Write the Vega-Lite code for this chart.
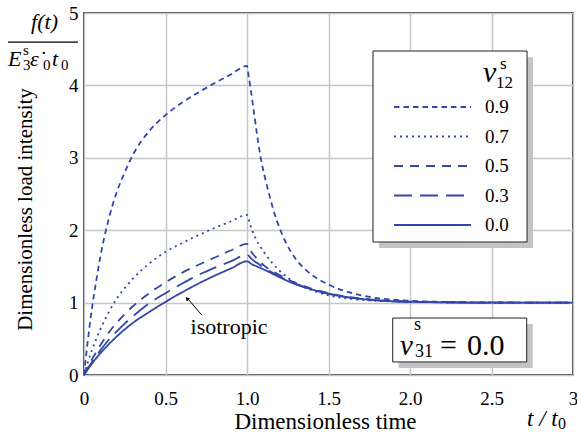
{
  "$schema": "https://vega.github.io/schema/vega-lite/v6.json",
  "width": 489,
  "height": 362,
  "autosize": "none",
  "padding": {"left": 84, "top": 13, "right": 4, "bottom": 57},
  "background": "white",
  "config": {
    "view": {"stroke": "#111111", "strokeWidth": 1.6},
    "font": "Liberation Serif",
    "axis": {
      "grid": true, "gridColor": "#c6c6c6", "gridWidth": 1.5,
      "domain": false, "ticks": false, "tickSize": 0,
      "labelFont": "Liberation Serif", "labelFontSize": 19, "labelColor": "#000000",
      "titleFont": "Liberation Serif", "titleFontWeight": "normal", "titleColor": "#000000"
    },
    "legend": {"labelFont": "Liberation Serif"},
    "text": {"font": "Liberation Serif", "color": "#000000"}
  },
  "layer": [
    {
      "data": {"values": [{}]},
      "mark": {"type": "rect", "color": "#c4c4c4"},
      "encoding": {
        "x": {"datum": 1.81, "type": "quantitative"}, "x2": {"datum": 2.755},
        "y": {"datum": 1.754, "type": "quantitative"}, "y2": {"datum": 4.39}
      }
    },
    {
      "data": {"values": [{}]},
      "mark": {"type": "rect", "fill": "white", "stroke": "#222222", "strokeWidth": 1},
      "encoding": {
        "x": {"datum": 1.773, "type": "quantitative"}, "x2": {"datum": 2.718},
        "y": {"datum": 1.837, "type": "quantitative"}, "y2": {"datum": 4.475}
      }
    },
    {
      "data": {"values": [{}]},
      "mark": {"type": "rect", "color": "#c4c4c4"},
      "encoding": {
        "x": {"datum": 1.931, "type": "quantitative"}, "x2": {"datum": 2.753},
        "y": {"datum": 0.097, "type": "quantitative"}, "y2": {"datum": 0.704}
      }
    },
    {
      "data": {"values": [{}]},
      "mark": {"type": "rect", "fill": "white", "stroke": "#222222", "strokeWidth": 1},
      "encoding": {
        "x": {"datum": 1.894, "type": "quantitative"}, "x2": {"datum": 2.716},
        "y": {"datum": 0.18, "type": "quantitative"}, "y2": {"datum": 0.787}
      }
    },
    {
      "data": {
        "values": [
          {"nu": "0.9", "t": 0, "f": 0}, {"nu": "0.9", "t": 0.02, "f": 0.41}, {"nu": "0.9", "t": 0.05, "f": 0.94},
          {"nu": "0.9", "t": 0.075, "f": 1.3}, {"nu": "0.9", "t": 0.1, "f": 1.63}, {"nu": "0.9", "t": 0.15, "f": 2.14}, {"nu": "0.9", "t": 0.2, "f": 2.52},
          {"nu": "0.9", "t": 0.25, "f": 2.8}, {"nu": "0.9", "t": 0.3, "f": 3.04}, {"nu": "0.9", "t": 0.4, "f": 3.37}, {"nu": "0.9", "t": 0.5, "f": 3.59},
          {"nu": "0.9", "t": 0.6, "f": 3.76}, {"nu": "0.9", "t": 0.7, "f": 3.9}, {"nu": "0.9", "t": 0.8, "f": 4.03},
          {"nu": "0.9", "t": 0.9, "f": 4.15}, {"nu": "0.9", "t": 1.0, "f": 4.27}, {"nu": "0.9", "t": 1.01, "f": 4.13},
          {"nu": "0.9", "t": 1.022, "f": 3.96}, {"nu": "0.9", "t": 1.043, "f": 3.62}, {"nu": "0.9", "t": 1.065, "f": 3.27}, {"nu": "0.9", "t": 1.084, "f": 3.0},
          {"nu": "0.9", "t": 1.11, "f": 2.73}, {"nu": "0.9", "t": 1.14, "f": 2.46}, {"nu": "0.9", "t": 1.17, "f": 2.22}, {"nu": "0.9", "t": 1.2, "f": 2.03}, {"nu": "0.9", "t": 1.25, "f": 1.78}, {"nu": "0.9", "t": 1.3, "f": 1.6},
          {"nu": "0.9", "t": 1.4, "f": 1.38}, {"nu": "0.9", "t": 1.5, "f": 1.25}, {"nu": "0.9", "t": 1.6, "f": 1.16},
          {"nu": "0.9", "t": 1.7, "f": 1.1}, {"nu": "0.9", "t": 1.8, "f": 1.06}, {"nu": "0.9", "t": 1.9, "f": 1.04},
          {"nu": "0.9", "t": 2.0, "f": 1.025}, {"nu": "0.9", "t": 2.25, "f": 1.008}, {"nu": "0.9", "t": 2.5, "f": 1.002},
          {"nu": "0.9", "t": 3.0, "f": 1.0},

          {"nu": "0.7", "t": 0, "f": 0}, {"nu": "0.7", "t": 0.02, "f": 0.15}, {"nu": "0.7", "t": 0.05, "f": 0.35},
          {"nu": "0.7", "t": 0.1, "f": 0.63}, {"nu": "0.7", "t": 0.15, "f": 0.86}, {"nu": "0.7", "t": 0.2, "f": 1.05},
          {"nu": "0.7", "t": 0.25, "f": 1.2}, {"nu": "0.7", "t": 0.3, "f": 1.33}, {"nu": "0.7", "t": 0.4, "f": 1.54}, {"nu": "0.7", "t": 0.5, "f": 1.7},
          {"nu": "0.7", "t": 0.6, "f": 1.82}, {"nu": "0.7", "t": 0.7, "f": 1.93}, {"nu": "0.7", "t": 0.8, "f": 2.03},
          {"nu": "0.7", "t": 0.9, "f": 2.12}, {"nu": "0.7", "t": 1.0, "f": 2.21}, {"nu": "0.7", "t": 1.02, "f": 2.07},
          {"nu": "0.7", "t": 1.05, "f": 1.9}, {"nu": "0.7", "t": 1.1, "f": 1.71}, {"nu": "0.7", "t": 1.15, "f": 1.56},
          {"nu": "0.7", "t": 1.2, "f": 1.44}, {"nu": "0.7", "t": 1.3, "f": 1.27}, {"nu": "0.7", "t": 1.4, "f": 1.17},
          {"nu": "0.7", "t": 1.5, "f": 1.1}, {"nu": "0.7", "t": 1.6, "f": 1.06}, {"nu": "0.7", "t": 1.75, "f": 1.03},
          {"nu": "0.7", "t": 2.0, "f": 1.012}, {"nu": "0.7", "t": 2.5, "f": 1.0}, {"nu": "0.7", "t": 3.0, "f": 1.0},

          {"nu": "0.5", "t": 0, "f": 0}, {"nu": "0.5", "t": 0.02, "f": 0.09}, {"nu": "0.5", "t": 0.05, "f": 0.22},
          {"nu": "0.5", "t": 0.1, "f": 0.41}, {"nu": "0.5", "t": 0.15, "f": 0.58}, {"nu": "0.5", "t": 0.2, "f": 0.72},
          {"nu": "0.5", "t": 0.25, "f": 0.84}, {"nu": "0.5", "t": 0.3, "f": 0.95}, {"nu": "0.5", "t": 0.4, "f": 1.13}, {"nu": "0.5", "t": 0.5, "f": 1.28},
          {"nu": "0.5", "t": 0.6, "f": 1.41}, {"nu": "0.5", "t": 0.7, "f": 1.52}, {"nu": "0.5", "t": 0.8, "f": 1.62},
          {"nu": "0.5", "t": 0.9, "f": 1.72}, {"nu": "0.5", "t": 1.0, "f": 1.81}, {"nu": "0.5", "t": 1.03, "f": 1.69},
          {"nu": "0.5", "t": 1.06, "f": 1.61}, {"nu": "0.5", "t": 1.1, "f": 1.52}, {"nu": "0.5", "t": 1.2, "f": 1.38},
          {"nu": "0.5", "t": 1.3, "f": 1.27}, {"nu": "0.5", "t": 1.4, "f": 1.19}, {"nu": "0.5", "t": 1.5, "f": 1.13},
          {"nu": "0.5", "t": 1.6, "f": 1.085}, {"nu": "0.5", "t": 1.75, "f": 1.045}, {"nu": "0.5", "t": 2.0, "f": 1.015},
          {"nu": "0.5", "t": 2.5, "f": 1.0}, {"nu": "0.5", "t": 3.0, "f": 1.0},

          {"nu": "0.3", "t": 0, "f": 0}, {"nu": "0.3", "t": 0.02, "f": 0.08}, {"nu": "0.3", "t": 0.05, "f": 0.18},
          {"nu": "0.3", "t": 0.1, "f": 0.34}, {"nu": "0.3", "t": 0.15, "f": 0.48}, {"nu": "0.3", "t": 0.2, "f": 0.6},
          {"nu": "0.3", "t": 0.25, "f": 0.71}, {"nu": "0.3", "t": 0.3, "f": 0.81}, {"nu": "0.3", "t": 0.4, "f": 0.99}, {"nu": "0.3", "t": 0.5, "f": 1.13},
          {"nu": "0.3", "t": 0.6, "f": 1.26}, {"nu": "0.3", "t": 0.7, "f": 1.38}, {"nu": "0.3", "t": 0.8, "f": 1.48},
          {"nu": "0.3", "t": 0.9, "f": 1.57}, {"nu": "0.3", "t": 1.0, "f": 1.66}, {"nu": "0.3", "t": 1.03, "f": 1.6},
          {"nu": "0.3", "t": 1.06, "f": 1.55}, {"nu": "0.3", "t": 1.1, "f": 1.49}, {"nu": "0.3", "t": 1.2, "f": 1.36},
          {"nu": "0.3", "t": 1.3, "f": 1.26}, {"nu": "0.3", "t": 1.4, "f": 1.18}, {"nu": "0.3", "t": 1.5, "f": 1.125},
          {"nu": "0.3", "t": 1.6, "f": 1.08}, {"nu": "0.3", "t": 1.75, "f": 1.04}, {"nu": "0.3", "t": 2.0, "f": 1.012},
          {"nu": "0.3", "t": 2.5, "f": 1.0}, {"nu": "0.3", "t": 3.0, "f": 1.0},

          {"nu": "0.0", "t": 0, "f": 0}, {"nu": "0.0", "t": 0.02, "f": 0.065}, {"nu": "0.0", "t": 0.05, "f": 0.16},
          {"nu": "0.0", "t": 0.1, "f": 0.3}, {"nu": "0.0", "t": 0.15, "f": 0.42}, {"nu": "0.0", "t": 0.2, "f": 0.53},
          {"nu": "0.0", "t": 0.25, "f": 0.63}, {"nu": "0.0", "t": 0.3, "f": 0.72}, {"nu": "0.0", "t": 0.4, "f": 0.87}, {"nu": "0.0", "t": 0.5, "f": 1.01},
          {"nu": "0.0", "t": 0.6, "f": 1.14}, {"nu": "0.0", "t": 0.7, "f": 1.26}, {"nu": "0.0", "t": 0.8, "f": 1.37},
          {"nu": "0.0", "t": 0.9, "f": 1.47}, {"nu": "0.0", "t": 1.0, "f": 1.57}, {"nu": "0.0", "t": 1.03, "f": 1.53},
          {"nu": "0.0", "t": 1.06, "f": 1.5}, {"nu": "0.0", "t": 1.1, "f": 1.46}, {"nu": "0.0", "t": 1.2, "f": 1.35},
          {"nu": "0.0", "t": 1.3, "f": 1.25}, {"nu": "0.0", "t": 1.4, "f": 1.18}, {"nu": "0.0", "t": 1.5, "f": 1.12},
          {"nu": "0.0", "t": 1.6, "f": 1.08}, {"nu": "0.0", "t": 1.75, "f": 1.04}, {"nu": "0.0", "t": 2.0, "f": 1.01},
          {"nu": "0.0", "t": 2.5, "f": 1.0}, {"nu": "0.0", "t": 3.0, "f": 1.0}
        ]
      },
      "mark": {"type": "line", "color": "#3447a8", "strokeWidth": 1.8, "interpolate": "monotone"},
      "encoding": {
        "x": {
          "field": "t", "type": "quantitative",
          "scale": {"domain": [0, 3], "nice": false, "zero": false},
          "axis": {
            "values": [0, 0.5, 1, 1.5, 2, 2.5, 3],
            "labelExpr": "datum.value == 0 ? '0' : datum.value == 3 ? '3' : format(datum.value, '.1f')",
            "labelFlush": false, "labelPadding": 14,
            "labelFont": "Liberation Serif", "titleFont": "Liberation Serif",
            "title": "Dimensionless time", "titleFontSize": 23,
            "titleX": 241, "titleY": 53, "titleBaseline": "alphabetic", "titleAnchor": null
          }
        },
        "y": {
          "field": "f", "type": "quantitative",
          "scale": {"domain": [0, 5], "nice": false},
          "axis": {
            "values": [0, 1, 2, 3, 4, 5],
            "format": "d",
            "labelPadding": 6,
            "labelFont": "Liberation Serif", "titleFont": "Liberation Serif",
            "title": "Dimensionless load intensity", "titleFontSize": 21,
            "titleX": -53, "titleY": 196, "titleBaseline": "alphabetic", "titleAngle": -90
          }
        },
        "detail": {"field": "nu"},
        "strokeDash": {
          "field": "nu", "type": "nominal",
          "scale": {
            "domain": ["0.9", "0.7", "0.5", "0.3", "0.0"],
            "range": [[5.5, 4], [2, 4], [9, 7], [18, 8], [1, 0]]
          },
          "legend": {
            "orient": "none", "legendX": 309, "legendY": 85,
            "title": null, "padding": 0,
            "symbolType": "stroke", "symbolSize": 5929, "symbolStrokeWidth": 1.8,
            "symbolStrokeColor": "#3447a8", "symbolOffset": 0,
            "clipHeight": 18, "rowPadding": 10.5,
            "labelFont": "Liberation Serif", "labelFontSize": 19, "labelColor": "#000000",
            "labelOffset": 13
          }
        }
      }
    },
    {
      "data": {"values": [{}]},
      "mark": {"type": "rule", "color": "#000000", "strokeWidth": 1},
      "encoding": {
        "x": {"datum": 0.722, "type": "quantitative"}, "x2": {"datum": 0.638},
        "y": {"datum": 0.829, "type": "quantitative"}, "y2": {"datum": 1.05}
      }
    },
    {
      "data": {"values": [{}]},
      "mark": {"type": "point", "shape": "triangle-up", "filled": true, "color": "#000000", "size": 22, "angle": 320, "opacity": 1},
      "encoding": {
        "x": {"datum": 0.632, "type": "quantitative"},
        "y": {"datum": 1.057, "type": "quantitative"}
      }
    },
    {
      "data": {"values": [{}]},
      "mark": {"type": "text", "text": "isotropic", "font": "Liberation Serif", "fontSize": 22, "align": "center", "baseline": "alphabetic"},
      "encoding": {"x": {"datum": 0.89, "type": "quantitative"}, "y": {"datum": 0.566, "type": "quantitative"}}
    },
    {
      "data": {"values": [{}]},
      "mark": {"type": "text", "text": "f(t)", "font": "Liberation Serif", "fontSize": 22, "fontStyle": "italic", "align": "center", "baseline": "alphabetic"},
      "encoding": {"x": {"datum": -0.242, "type": "quantitative"}, "y": {"datum": 4.779, "type": "quantitative"}}
    },
    {
      "data": {"values": [{}]},
      "mark": {"type": "rule", "color": "#000000", "strokeWidth": 1.2},
      "encoding": {
        "x": {"datum": -0.466, "type": "quantitative"}, "x2": {"datum": -0.037},
        "y": {"datum": 4.599, "type": "quantitative"}
      }
    },
    {
      "data": {"values": [{}]},
      "mark": {"type": "text", "text": "E", "font": "Liberation Serif", "fontSize": 22, "fontStyle": "italic", "align": "left", "baseline": "alphabetic"},
      "encoding": {"x": {"datum": -0.466, "type": "quantitative"}, "y": {"datum": 4.268, "type": "quantitative"}}
    },
    {
      "data": {"values": [{}]},
      "mark": {"type": "text", "text": "s", "font": "Liberation Serif", "fontSize": 15, "align": "left", "baseline": "alphabetic"},
      "encoding": {"x": {"datum": -0.374, "type": "quantitative"}, "y": {"datum": 4.42, "type": "quantitative"}}
    },
    {
      "data": {"values": [{}]},
      "mark": {"type": "text", "text": "3", "font": "Liberation Serif", "fontSize": 15, "align": "left", "baseline": "alphabetic"},
      "encoding": {"x": {"datum": -0.374, "type": "quantitative"}, "y": {"datum": 4.213, "type": "quantitative"}}
    },
    {
      "data": {"values": [{}]},
      "mark": {"type": "text", "text": "ε̇", "font": "Liberation Serif", "fontSize": 22, "fontStyle": "italic", "align": "left", "baseline": "alphabetic"},
      "encoding": {"x": {"datum": -0.331, "type": "quantitative"}, "y": {"datum": 4.268, "type": "quantitative"}}
    },
    {
      "data": {"values": [{}]},
      "mark": {"type": "text", "text": "0", "font": "Liberation Serif", "fontSize": 15, "align": "left", "baseline": "alphabetic"},
      "encoding": {"x": {"datum": -0.252, "type": "quantitative"}, "y": {"datum": 4.213, "type": "quantitative"}}
    },
    {
      "data": {"values": [{}]},
      "mark": {"type": "text", "text": "t", "font": "Liberation Serif", "fontSize": 22, "fontStyle": "italic", "align": "left", "baseline": "alphabetic"},
      "encoding": {"x": {"datum": -0.196, "type": "quantitative"}, "y": {"datum": 4.268, "type": "quantitative"}}
    },
    {
      "data": {"values": [{}]},
      "mark": {"type": "text", "text": "0", "font": "Liberation Serif", "fontSize": 15, "align": "left", "baseline": "alphabetic"},
      "encoding": {"x": {"datum": -0.141, "type": "quantitative"}, "y": {"datum": 4.213, "type": "quantitative"}}
    },
    {
      "data": {"values": [{}]},
      "mark": {"type": "text", "text": "ν", "font": "Liberation Serif", "fontSize": 30, "fontStyle": "italic", "align": "left", "baseline": "alphabetic"},
      "encoding": {"x": {"datum": 2.448, "type": "quantitative"}, "y": {"datum": 4.047, "type": "quantitative"}}
    },
    {
      "data": {"values": [{}]},
      "mark": {"type": "text", "text": "s", "font": "Liberation Serif", "fontSize": 17, "align": "left", "baseline": "alphabetic"},
      "encoding": {"x": {"datum": 2.552, "type": "quantitative"}, "y": {"datum": 4.227, "type": "quantitative"}}
    },
    {
      "data": {"values": [{}]},
      "mark": {"type": "text", "text": "12", "font": "Liberation Serif", "fontSize": 17, "align": "left", "baseline": "alphabetic"},
      "encoding": {"x": {"datum": 2.528, "type": "quantitative"}, "y": {"datum": 3.964, "type": "quantitative"}}
    },
    {
      "data": {"values": [{}]},
      "mark": {"type": "text", "text": "ν", "font": "Liberation Serif", "fontSize": 29, "fontStyle": "italic", "align": "left", "baseline": "alphabetic"},
      "encoding": {"x": {"datum": 1.939, "type": "quantitative"}, "y": {"datum": 0.276, "type": "quantitative"}}
    },
    {
      "data": {"values": [{}]},
      "mark": {"type": "text", "text": "s", "font": "Liberation Serif", "fontSize": 18, "align": "left", "baseline": "alphabetic"},
      "encoding": {"x": {"datum": 2.025, "type": "quantitative"}, "y": {"datum": 0.62, "type": "quantitative"}}
    },
    {
      "data": {"values": [{}]},
      "mark": {"type": "text", "text": "31", "font": "Liberation Serif", "fontSize": 18, "align": "left", "baseline": "alphabetic"},
      "encoding": {"x": {"datum": 2.03, "type": "quantitative"}, "y": {"datum": 0.245, "type": "quantitative"}}
    },
    {
      "data": {"values": [{}]},
      "mark": {"type": "text", "text": "=", "font": "Liberation Serif", "fontSize": 30, "align": "left", "baseline": "alphabetic"},
      "encoding": {"x": {"datum": 2.184, "type": "quantitative"}, "y": {"datum": 0.276, "type": "quantitative"}}
    },
    {
      "data": {"values": [{}]},
      "mark": {"type": "text", "text": "0.0", "font": "Liberation Serif", "fontSize": 30, "align": "left", "baseline": "alphabetic"},
      "encoding": {"x": {"datum": 2.35, "type": "quantitative"}, "y": {"datum": 0.276, "type": "quantitative"}}
    },
    {
      "data": {"values": [{}]},
      "mark": {"type": "text", "text": "t / t", "font": "Liberation Serif", "fontSize": 23, "fontStyle": "italic", "align": "left", "baseline": "alphabetic"},
      "encoding": {"x": {"datum": 2.718, "type": "quantitative"}, "y": {"datum": -0.7, "type": "quantitative"}}
    },
    {
      "data": {"values": [{}]},
      "mark": {"type": "text", "text": "0", "font": "Liberation Serif", "fontSize": 16, "align": "left", "baseline": "alphabetic"},
      "encoding": {"x": {"datum": 2.908, "type": "quantitative"}, "y": {"datum": -0.75, "type": "quantitative"}}
    }
  ]
}
